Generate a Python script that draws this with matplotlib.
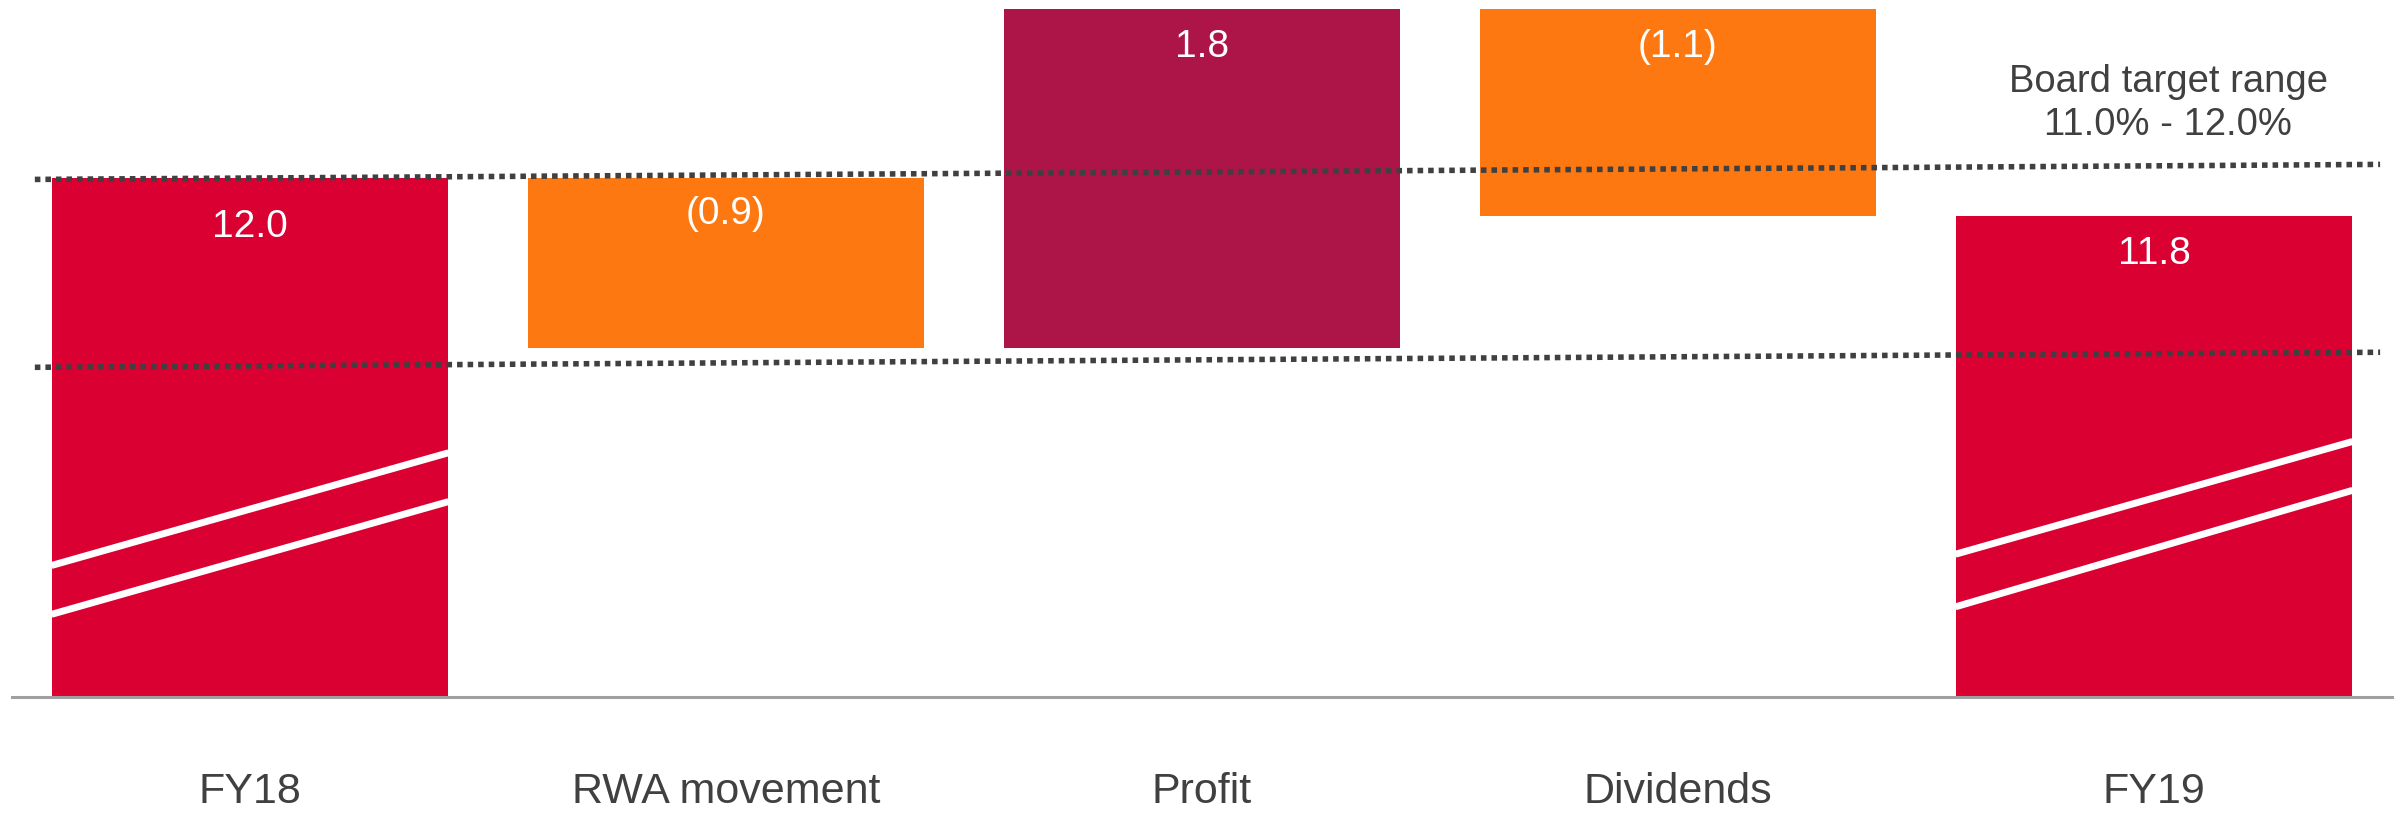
import numpy as np
from matplotlib import pyplot as plt

plt.rcParams['font.family'] = ['Liberation Sans', 'DejaVu Sans']

# waterfall data (CET1 ratio, %)
categories = ['FY18', 'RWA movement', 'Profit', 'Dividends', 'FY19']
values = [12.0, -0.9, 1.8, -1.1, 11.8]
labels = ['12.0', '(0.9)', '1.8', '(1.1)', '11.8']
is_total = [True, False, False, False, True]
target_low = 11.0
target_high = 12.0
target_text = 'Board target range\n11.0% - 12.0%'

# break marks on the total bars (left y, right y)
breaks = {0: [(9.94, 10.54), (9.68, 10.28)],
          4: [(10.0, 10.6), (9.72, 10.34)]}

red = '#DA0032'
plum = '#AD1548'
orange = '#FE7811'
dark = '#404040'

# how far below the bar top each value label sits
label_drop = [0.26, 0.19, 0.2, 0.2, 0.2]

y0 = 9.24
fig = plt.figure(figsize=(24, 8.15), dpi=100)
ax = fig.add_axes([12/2400, 1 - 697/815, 2380/2400, 697/815])

x = np.arange(len(categories))
w = 0.834
running = 0.0
for i, v in enumerate(values):
    if is_total[i]:
        bottom, top = y0, v
        col = red
        running = v
    else:
        bottom = min(running, running + v)
        top = max(running, running + v)
        col = plum if v > 0 else orange
        running += v
    ax.bar(x[i], top - bottom, bottom=bottom, width=w, color=col, zorder=2)
    ax.text(x[i], top - label_drop[i], labels[i], ha='center', va='center',
            color='white', fontsize=28, zorder=4)

for i, segs in breaks.items():
    for yl, yr in segs:
        ax.plot([x[i] - w/2, x[i] + w/2], [yl, yr], color='white', lw=5,
                solid_capstyle='butt', zorder=3)

# slightly slanted dotted target lines
for yv in [target_low, target_high]:
    ax.plot([-0.452, 4.475], [yv - 0.005, yv + 0.075], color=dark, lw=4,
            linestyle=(0, (1, 0.9)), dash_capstyle='butt', zorder=5)

ax.text(4.03, 12.40, target_text, ha='center', va='center', color=dark,
        fontsize=27.5, linespacing=1.25)

ax.set_xlim(-0.5, 4.5)
ax.set_ylim(y0, 12.95)
ax.set_yticks([])
ax.set_xticks(x)
ax.set_xticklabels(categories, fontsize=31, color=dark)
ax.tick_params(axis='x', length=0, pad=54)
for s in ['top', 'left', 'right']:
    ax.spines[s].set_visible(False)
ax.spines['bottom'].set_color('#A0A0A0')
ax.spines['bottom'].set_linewidth(2.2)

plt.savefig('out.png', dpi=100)
